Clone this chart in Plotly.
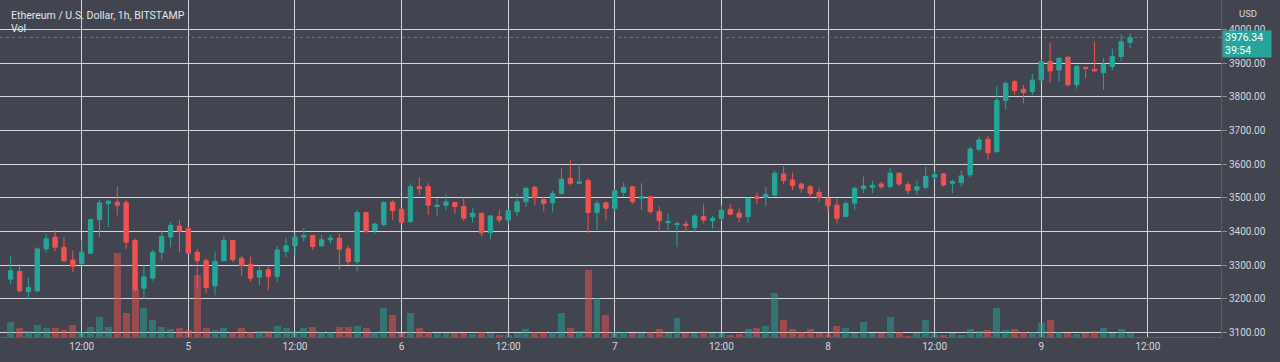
import pandas as pd
import plotly.graph_objects as go

# ---- data (hourly ETH/USD, BITSTAMP) ----
start_time = "2024-12-04 04:00"
n_candles = 127

opens = [3258, 3281, 3221, 3223, 3348, 3383, 3353, 3315, 3305, 3335,
         3435, 3483, 3487, 3485, 3373, 3231, 3261, 3338, 3383, 3416,
         3408, 3338, 3313, 3238, 3313, 3373, 3320, 3302, 3264, 3286,
         3266, 3341, 3357, 3383, 3388, 3357, 3375, 3380, 3348, 3310,
         3456, 3402, 3420, 3487, 3466, 3429, 3533, 3533, 3474, 3478,
         3486, 3474, 3444, 3454, 3396, 3444, 3434, 3459, 3488, 3531,
         3495, 3485, 3513, 3558, 3543, 3551, 3456, 3485, 3469, 3516,
         3533, 3498, 3503, 3459, 3426, 3420, 3422, 3412, 3444, 3432,
         3439, 3466, 3454, 3444, 3503, 3501, 3508, 3571, 3553, 3541,
         3533, 3516, 3498, 3478, 3444, 3484, 3527, 3531, 3541, 3533,
         3573, 3539, 3523, 3531, 3561, 3571, 3543, 3545, 3568, 3644,
         3674, 3637, 3789, 3845, 3823, 3816, 3850, 3905, 3880, 3918,
         3836, 3888, 3882, 3872, 3890, 3920, 3962]
highs = [3328, 3303, 3263, 3353, 3393, 3405, 3383, 3343, 3373, 3438,
         3493, 3493, 3533, 3493, 3380, 3298, 3345, 3403, 3428, 3433,
         3413, 3348, 3320, 3340, 3385, 3375, 3327, 3325, 3298, 3296,
         3357, 3380, 3395, 3410, 3390, 3390, 3390, 3393, 3357, 3464,
         3459, 3425, 3489, 3492, 3469, 3543, 3561, 3543, 3498, 3510,
         3488, 3501, 3469, 3456, 3449, 3464, 3466, 3513, 3531, 3535,
         3503, 3521, 3587, 3612, 3600, 3558, 3493, 3488, 3525, 3545,
         3535, 3543, 3505, 3475, 3452, 3429, 3432, 3452, 3483, 3446,
         3478, 3481, 3469, 3501, 3515, 3533, 3581, 3594, 3575, 3545,
         3538, 3531, 3503, 3498, 3491, 3533, 3563, 3551, 3548, 3588,
         3575, 3548, 3551, 3593, 3578, 3573, 3555, 3581, 3652, 3682,
         3684, 3832, 3845, 3850, 3835, 3868, 3910, 3962, 3917, 3920,
         3895, 3888, 3964, 3915, 3943, 3986, 3989]
lows = [3243, 3218, 3198, 3220, 3338, 3341, 3308, 3278, 3298, 3333,
        3383, 3413, 3448, 3348, 3222, 3200, 3253, 3313, 3353, 3338,
        3333, 3228, 3215, 3210, 3310, 3309, 3268, 3251, 3241, 3226,
        3251, 3323, 3326, 3370, 3345, 3353, 3363, 3286, 3301, 3281,
        3395, 3393, 3415, 3434, 3424, 3426, 3509, 3449, 3446, 3463,
        3452, 3432, 3426, 3386, 3376, 3426, 3422, 3444, 3473, 3478,
        3459, 3459, 3508, 3538, 3542, 3394, 3404, 3432, 3459, 3503,
        3483, 3464, 3452, 3399, 3399, 3353, 3399, 3399, 3424, 3409,
        3432, 3449, 3426, 3426, 3481, 3474, 3503, 3541, 3523, 3515,
        3498, 3488, 3454, 3424, 3442, 3464, 3513, 3513, 3525, 3528,
        3535, 3511, 3508, 3525, 3555, 3533, 3513, 3533, 3561, 3637,
        3613, 3634, 3763, 3806, 3781, 3806, 3845, 3842, 3846, 3831,
        3824, 3855, 3875, 3821, 3880, 3907, 3945]
closes = [3283, 3223, 3233, 3348, 3378, 3353, 3313, 3296, 3338, 3435,
          3485, 3490, 3478, 3368, 3228, 3265, 3338, 3385, 3418, 3401,
          3335, 3313, 3233, 3310, 3373, 3316, 3298, 3261, 3283, 3266,
          3345, 3357, 3383, 3387, 3355, 3375, 3380, 3347, 3310, 3456,
          3400, 3422, 3486, 3462, 3427, 3533, 3527, 3478, 3478, 3488,
          3474, 3439, 3454, 3396, 3446, 3434, 3462, 3488, 3528, 3500,
          3483, 3513, 3555, 3543, 3547, 3456, 3483, 3469, 3521, 3531,
          3488, 3503, 3459, 3432, 3429, 3423, 3418, 3446, 3434, 3439,
          3463, 3451, 3442, 3498, 3498, 3510, 3573, 3551, 3536, 3528,
          3513, 3501, 3476, 3439, 3483, 3528, 3535, 3537, 3533, 3573,
          3541, 3521, 3533, 3563, 3569, 3538, 3548, 3565, 3645, 3672,
          3634, 3789, 3840, 3819, 3813, 3850, 3905, 3877, 3915, 3836,
          3890, 3885, 3877, 3897, 3920, 3964, 3976.34]
volumes = [588, 372, 240, 480, 372, 348, 280, 480, 188, 412,
           812, 412, 3348, 948, 1908, 1148, 680, 412, 320, 372,
           280, 2480, 348, 280, 372, 188, 348, 188, 240, 240,
           440, 348, 240, 372, 412, 188, 188, 412, 412, 440,
           348, 188, 1148, 880, 180, 972, 348, 212, 172, 148,
           148, 148, 120, 212, 172, 80, 80, 172, 308, 212,
           212, 212, 972, 348, 240, 2680, 1548, 880, 212, 212,
           172, 148, 212, 308, 172, 748, 172, 148, 252, 172,
           148, 80, 120, 308, 348, 428, 1772, 680, 308, 212,
           308, 172, 120, 440, 372, 172, 612, 148, 172, 812,
           212, 40, 172, 680, 120, 80, 148, 80, 308, 240,
           280, 1148, 280, 308, 212, 212, 548, 680, 212, 172,
           120, 172, 240, 372, 172, 308, 172]

tick_times = ["2024-12-04 12:00", "2024-12-05 00:00", "2024-12-05 12:00",
              "2024-12-06 00:00", "2024-12-06 12:00", "2024-12-07 00:00",
              "2024-12-07 12:00", "2024-12-08 00:00", "2024-12-08 12:00",
              "2024-12-09 00:00", "2024-12-09 12:00"]
tick_labels = ["12:00", "5", "12:00", "6", "12:00", "7", "12:00", "8",
               "12:00", "9", "12:00"]
price_ticks = [3100, 3200, 3300, 3400, 3500, 3600, 3700, 3800, 3900, 4000]

title_text = "Ethereum / U.S. Dollar, 1h, BITSTAMP"
last_price = closes[-1]
countdown = "39:54"

# ---- styling ----
BG = "#42444f"
GRID = "rgba(226,227,232,0.92)"
TXT = "#d6d8de"
UP = "#26a69a"
DN = "#ef5350"
FONT = "Roboto"

times = pd.date_range(start_time, periods=n_candles, freq="h")
vol_colors = ["rgba(38,166,154,0.5)" if c >= o else "rgba(239,83,80,0.5)"
              for o, c in zip(opens, closes)]

fig = go.Figure()
fig.add_trace(go.Bar(x=times, y=volumes, marker_color=vol_colors,
                     marker_line_width=0, width=3600000 * 0.78,
                     yaxis="y", hoverinfo="skip", showlegend=False))
fig.add_trace(go.Candlestick(
    x=times, open=opens, high=highs, low=lows, close=closes, yaxis="y2",
    increasing=dict(line=dict(color=UP, width=1), fillcolor=UP),
    decreasing=dict(line=dict(color=DN, width=1), fillcolor=DN),
    whiskerwidth=0, showlegend=False))

fig.update_layout(
    width=1280, height=362,
    margin=dict(l=0, r=59, t=0, b=25),
    paper_bgcolor=BG, plot_bgcolor=BG,
    font=dict(family=FONT, size=10, color=TXT),
    bargap=0,
    xaxis=dict(
        type="date", range=["2024-12-04 02:48", "2024-12-09 20:14"],
        tickvals=tick_times, ticktext=tick_labels,
        showgrid=True, gridcolor=GRID, gridwidth=1,
        rangeslider=dict(visible=False), ticks="",
        showline=True, linecolor="#5a5c66", linewidth=1,
        tickfont=dict(size=10, color=TXT), zeroline=False,
    ),
    yaxis=dict(range=[0, 13480], visible=False, showgrid=False,
               fixedrange=True),
    yaxis2=dict(
        overlaying="y", side="right", range=[3086, 4088],
        tickvals=price_ticks,
        ticktext=[f"{v:.2f}" for v in price_ticks],
        showgrid=True, gridcolor=GRID, gridwidth=1,
        ticks="outside", ticklen=5, tickcolor="#8a8c94",
        showline=True, linecolor="#5a5c66", linewidth=1,
        tickfont=dict(size=10, color=TXT), zeroline=False,
    ),
    shapes=[dict(type="line", xref="paper", x0=0, x1=1,
                 yref="y2", y0=last_price, y1=last_price,
                 line=dict(color="rgba(38,166,154,0.8)", width=1,
                           dash="dot"))],
    annotations=[
        dict(text=title_text, xref="paper", yref="paper", x=0, y=1,
             xanchor="left", yanchor="middle", xshift=9, yshift=-15,
             showarrow=False, font=dict(size=10.5, color="#e6e7ea")),
        dict(text="Vol", xref="paper", yref="paper", x=0, y=1,
             xanchor="left", yanchor="middle", xshift=9, yshift=-28,
             showarrow=False, font=dict(size=10.5, color="#e6e7ea")),
        dict(text="USD", xref="paper", yref="paper", x=1, y=1,
             xanchor="center", yanchor="middle", xshift=27, yshift=-13,
             showarrow=False, font=dict(size=9.5, color=TXT)),
        dict(text=f"{last_price:.2f}<br>{countdown}", xref="paper",
             yref="y2", x=1, y=last_price, xanchor="left", yanchor="top",
             xshift=1, yshift=8, showarrow=False, align="left",
             bgcolor=UP, borderpad=2, width=44, height=22,
             font=dict(size=10.5, color="#ffffff")),
    ],
)

fig.write_html("out.html",
               config={"displayModeBar": False},
               post_script="document.body.style.margin='0';"
                           "document.body.style.background='" + BG + "';")
